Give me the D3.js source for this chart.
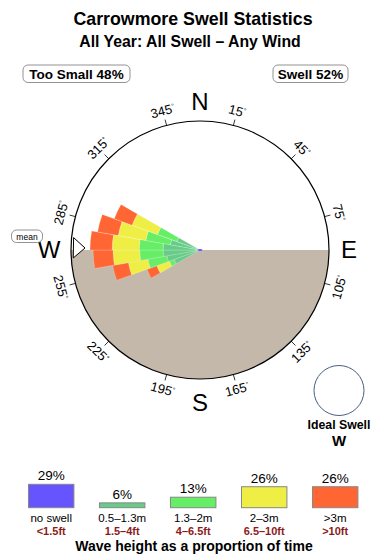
<!DOCTYPE html>
<html>
<head>
<meta charset="utf-8">
<script src="https://cdn.jsdelivr.net/npm/d3@7"></script>
<style>
  body { margin: 0; background: #fff; }
  svg text { font-family: "Liberation Sans", Arial, sans-serif; }
</style>
</head>
<body>
<div id="chart"></div>
<script>
// swell rose: 10 degree bins, percent of time per height band
const directions = [245, 255, 265, 275, 285, 295];
const teal   = [1.0, 1.5, 1.8, 1.8, 1.2, 0.8];
const green  = [0.4, 2.2, 3.0, 3.1, 2.8, 1.9];
const yellow = [1.4, 3.3, 5.2, 5.3, 5.1, 4.2];
const orange = [1.4, 3.4, 5.1, 5.8, 5.2, 4.1];
const meanDir = 271;

const tickAngles = [15, 45, 75, 105, 135, 165, 195, 225, 255, 285, 315, 345];

const bandNames = ["no swell", "0.5\u20131.3m", "1.3\u20132m", "2\u20133m", ">3m"];
const bandFeet  = ["<1.5ft", "1.5\u20134ft", "4\u20136.5ft", "6.5\u201310ft", ">10ft"];
const bandShare = [29, 6, 13, 26, 26];
const bandColors = ["#6655ff", "#66cc88", "#66ee66", "#eeee44", "#ff6633"];

const width = 390, height = 560;
const cx = 200, cy = 250, R = 129;

const svg = d3.select("#chart").append("svg")
    .attr("width", width)
    .attr("height", height);

// titles
svg.append("text").attr("x", 193).attr("y", 25)
    .attr("text-anchor", "middle").attr("font-size", 17.8).attr("font-weight", "bold")
    .text("Carrowmore Swell Statistics");
svg.append("text").attr("x", 190).attr("y", 47)
    .attr("text-anchor", "middle").attr("font-size", 15.8).attr("font-weight", "bold")
    .text("All Year: All Swell \u2013 Any Wind");

function boxLabel(x0, x1, txt) {
    svg.append("rect").attr("x", x0).attr("y", 65).attr("width", x1 - x0).attr("height", 17.5)
        .attr("rx", 5).attr("fill", "#fff").attr("stroke", "#777").attr("stroke-width", 0.8);
    svg.append("text").attr("x", (x0 + x1) / 2).attr("y", 78.5)
        .attr("text-anchor", "middle").attr("font-size", 13.5).attr("font-weight", "bold")
        .text(txt);
}
boxLabel(23, 130, "Too Small 48%");
boxLabel(273, 348, "Swell 52%");

const g = svg.append("g").attr("transform", `translate(${cx},${cy})`);
const rad = d => d * Math.PI / 180;
const pt = (a, r) => [r * Math.sin(rad(a)), -r * Math.cos(rad(a))];

// land (lower half)
g.append("path")
    .attr("d", d3.arc()({ innerRadius: 0, outerRadius: R, startAngle: rad(90), endAngle: rad(270) }))
    .attr("fill", "#c4b8ab");

// rose
const r = d3.scaleSqrt().domain([0, 22]).range([0, R]);
const bands = [teal, green, yellow, orange];
const arc = d3.arc();
directions.forEach((dir, i) => {
    let cum = 0;
    bands.forEach((b, j) => {
        const lo = cum;
        cum += b[i];
        g.append("path")
            .attr("d", arc({ innerRadius: r(lo), outerRadius: r(cum), startAngle: rad(dir - 5), endAngle: rad(dir + 5) }))
            .attr("fill", bandColors[j + 1])
            .attr("stroke", "#fff").attr("stroke-opacity", 0.35).attr("stroke-width", 0.6);
    });
});
g.append("ellipse").attr("rx", 2.5).attr("ry", 1).attr("fill", bandColors[0]);

// compass ring
g.append("circle").attr("r", R).attr("fill", "none").attr("stroke", "#000").attr("stroke-width", 1.2);

tickAngles.forEach(a => {
    const p0 = pt(a, R), p1 = pt(a, R + 6);
    g.append("line").attr("x1", p0[0]).attr("y1", p0[1]).attr("x2", p1[0]).attr("y2", p1[1])
        .attr("stroke", "#000").attr("stroke-width", 0.8);
    const p = pt(a, R + 15);
    const rot = (a > 90 && a < 270) ? a - 180 : (a > 270 ? a - 360 : a);
    const t = g.append("text")
        .attr("transform", `translate(${p[0]},${p[1]}) rotate(${rot})`)
        .attr("text-anchor", "middle").attr("dy", "0.35em").attr("font-size", 13);
    t.append("tspan").text(a);
    t.append("tspan").attr("font-size", 7).attr("dy", "-0.6em").text("\u00b0");
});

// cardinal letters
[["N", 0, -140], ["S", 0, 161], ["W", -151, 7.5], ["E", 149, 7.5]].forEach(([l, x, y]) => {
    g.append("text").attr("x", x).attr("y", y).attr("text-anchor", "middle")
        .attr("font-size", 24).text(l);
});

// mean arrow
const tip = pt(meanDir, 115), b1 = pt(meanDir - 4.6, 127), b2 = pt(meanDir + 4.6, 127);
g.append("path").attr("d", `M${b1}L${tip}L${b2}Z`)
    .attr("fill", "#fff").attr("stroke", "#000").attr("stroke-width", 1);
svg.append("rect").attr("x", 11.5).attr("y", 230).attr("width", 31).attr("height", 12.5)
    .attr("rx", 5).attr("fill", "#fff").attr("stroke", "#777").attr("stroke-width", 0.8);
svg.append("text").attr("x", 27).attr("y", 239.5).attr("text-anchor", "middle")
    .attr("font-size", 8.5).text("mean");

// ideal swell
svg.append("circle").attr("cx", 339).attr("cy", 390.5).attr("r", 25)
    .attr("fill", "#fff").attr("stroke", "#4a5f80").attr("stroke-width", 1);
svg.append("text").attr("x", 339).attr("y", 429).attr("text-anchor", "middle")
    .attr("font-size", 12.3).attr("font-weight", "bold").text("Ideal Swell");
svg.append("text").attr("x", 339).attr("y", 446).attr("text-anchor", "middle")
    .attr("font-size", 15).attr("font-weight", "bold").text("W");

// legend
const x = d3.scaleBand().domain(bandNames).range([15.7, 370.7]).paddingInner(0.36).paddingOuter(0.18);
const h = d3.scaleLinear().domain([0, 29]).range([0, 23.4]);
const base = 507.7;
const leg = svg.append("g");
leg.selectAll("rect").data(bandNames).join("rect")
    .attr("x", d => x(d)).attr("width", x.bandwidth())
    .attr("y", (d, i) => base - h(bandShare[i])).attr("height", (d, i) => h(bandShare[i]))
    .attr("fill", (d, i) => bandColors[i]).attr("stroke", "#888").attr("stroke-width", 1);
leg.selectAll(".pct").data(bandNames).join("text").attr("class", "pct")
    .attr("x", d => x(d) + x.bandwidth() / 2).attr("y", (d, i) => base - h(bandShare[i]) - 4)
    .attr("text-anchor", "middle").attr("font-size", 13.5)
    .text((d, i) => bandShare[i] + "%");
leg.selectAll(".nm").data(bandNames).join("text").attr("class", "nm")
    .attr("x", d => x(d) + x.bandwidth() / 2).attr("y", 521.5)
    .attr("text-anchor", "middle").attr("font-size", 11.5)
    .text(d => d);
leg.selectAll(".ft").data(bandFeet).join("text").attr("class", "ft")
    .attr("x", (d, i) => x(bandNames[i]) + x.bandwidth() / 2).attr("y", 534.8)
    .attr("text-anchor", "middle").attr("font-size", 11).attr("font-weight", "bold")
    .attr("fill", "#8b1a1a")
    .text(d => d);
svg.append("text").attr("x", 194).attr("y", 551).attr("text-anchor", "middle")
    .attr("font-size", 14).attr("font-weight", "bold")
    .text("Wave height as a proportion of time");
</script>
</body>
</html>
